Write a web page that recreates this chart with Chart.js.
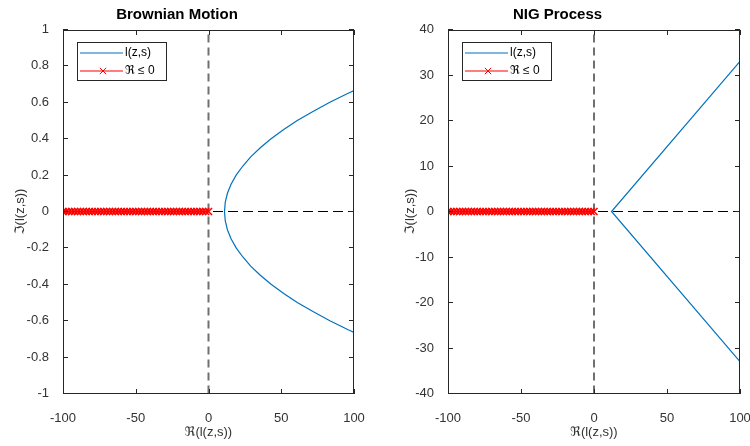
<!DOCTYPE html>
<html>
<head>
<meta charset="utf-8">
<script src="https://cdn.jsdelivr.net/npm/chart.js@4/dist/chart.umd.min.js"></script>
<style>
html, body { margin: 0; padding: 0; background: #fff; }
#wrap { width: 750px; height: 446px; display: flex; }
</style>
</head>
<body>
<div id="wrap">
    <canvas id="bm" width="375" height="446"></canvas>
    <canvas id="nig" width="375" height="446"></canvas>
</div>
<script>
// tick labels
var reTicks = [-100, -50, 0, 50, 100];
var bmImTicks = [-1, -0.8, -0.6, -0.4, -0.2, 0, 0.2, 0.4, 0.6, 0.8, 1];
var nigImTicks = [-40, -30, -20, -10, 0, 10, 20, 30, 40];

// brownian motion: l(z,s) curve (real part, imaginary part)
var bmRe = [100, 96, 83.4, 71.8, 61, 51.7, 43, 35.6, 29, 23.6, 19, 15.5, 13, 11.5, 11,
            11.5, 13, 15.5, 19, 23.6, 29, 35.6, 43, 51.7, 61, 71.8, 83.4, 96, 100];
var bmIm = [-0.665, -0.65, -0.6, -0.55, -0.5, -0.45, -0.4, -0.35, -0.3, -0.25, -0.2, -0.15, -0.1, -0.05, 0,
            0.05, 0.1, 0.15, 0.2, 0.25, 0.3, 0.35, 0.4, 0.45, 0.5, 0.55, 0.6, 0.65, 0.665];

// nig process: l(z,s) curve
var nigRe = [100, 12, 100];
var nigIm = [-33, 0, 33];

// points with real part <= 0 (on the real axis)
var negRe = [-100, -98, -96, -94, -92, -90, -88, -86, -84, -82, -80, -78, -76, -74, -72, -70, -68,
             -66, -64, -62, -60, -58, -56, -54, -52, -50, -48, -46, -44, -42, -40, -38, -36, -34,
             -32, -30, -28, -26, -24, -22, -20, -18, -16, -14, -12, -10, -8, -6, -4, -2, 0];
var negIm = [0, 0, 0, 0, 0, 0, 0, 0, 0, 0, 0, 0, 0, 0, 0, 0, 0, 0, 0, 0, 0, 0, 0, 0, 0, 0,
             0, 0, 0, 0, 0, 0, 0, 0, 0, 0, 0, 0, 0, 0, 0, 0, 0, 0, 0, 0, 0, 0, 0, 0, 0];

// dashed reference lines
var hLineRe = [-100, 100];
var vLineRe = [0, 0];

var FONT = 'Liberation Sans, Arial, DejaVu Sans, sans-serif';
var TEXT_COLOR = '#333333';
var CURVE_COLOR = '#0072BD';

var toPoints = function(xs, ys) {
    var pts = [];
    for (var i = 0; i < xs.length; i++) {
        pts.push({x: xs[i], y: ys[i]});
    }
    return pts;
};

// matlab style box, inward ticks and legend inside the plot
var matlabAxes = {
    id: 'matlabAxes',
    afterDatasetsDraw: function(chart) {
        var ctx = chart.ctx, a = chart.chartArea;
        var xs = chart.scales.x, ys = chart.scales.y;
        var left = Math.round(a.left), right = Math.round(a.right);
        var top = Math.round(a.top), bottom = Math.round(a.bottom);
        ctx.save();
        ctx.setLineDash([]);
        ctx.globalAlpha = 1;
        ctx.strokeStyle = '#262626';
        ctx.lineWidth = 1;
        ctx.strokeRect(left + 0.5, top + 0.5, right - left - 1, bottom - top - 1);
        ctx.beginPath();
        xs.ticks.forEach(function(t) {
            var px = Math.round(xs.getPixelForValue(t.value)) + 0.5;
            ctx.moveTo(px, bottom); ctx.lineTo(px, bottom - 5);
            ctx.moveTo(px, top); ctx.lineTo(px, top + 5);
        });
        ys.ticks.forEach(function(t) {
            var py = Math.floor(ys.getPixelForValue(t.value)) + 0.5;
            ctx.moveTo(left, py); ctx.lineTo(left + 5, py);
            ctx.moveTo(right, py); ctx.lineTo(right - 5, py);
        });
        ctx.stroke();

        //legend box:
        var lx = left + 14, ly = top + 12;
        ctx.fillStyle = '#fff';
        ctx.fillRect(lx, ly, 89, 38);
        ctx.strokeStyle = '#262626';
        ctx.strokeRect(lx + 0.5, ly + 0.5, 89, 38);

        //legend entries:
        ctx.lineWidth = 1.2;
        ctx.strokeStyle = CURVE_COLOR;
        ctx.beginPath();
        ctx.moveTo(lx + 3, ly + 11); ctx.lineTo(lx + 46, ly + 11);
        ctx.stroke();

        ctx.strokeStyle = '#ff0000';
        ctx.fillStyle = '#ff0000';
        ctx.beginPath();
        ctx.moveTo(lx + 3, ly + 29); ctx.lineTo(lx + 46, ly + 29);
        ctx.stroke();
        ctx.lineWidth = 1;
        Chart.helpers.drawPoint(ctx, {pointStyle: 'crossRot', radius: 4.5, borderWidth: 1}, lx + 26, ly + 29);

        ctx.fillStyle = '#000';
        ctx.font = '12px ' + FONT;
        ctx.textBaseline = 'middle';
        ctx.textAlign = 'left';
        ctx.fillText('l(z,s)', lx + 48, ly + 11);
        ctx.fillText('\u211C \u2264 0', lx + 48, ly + 29);
        ctx.restore();
    }
};

var makeChart = function(id, opts) {
    var tickFont = {family: FONT, size: 13};
    return new Chart(document.getElementById(id), {
        type: 'scatter',
        data: {
            datasets: [{
                label: '\u211C \u2264 0',
                data: toPoints(negRe, negIm),
                showLine: true,
                borderColor: '#ff0000',
                borderWidth: 1,
                pointStyle: 'crossRot',
                pointRadius: 5,
                pointBorderWidth: 1.5,
                pointBorderColor: '#ff0000',
                order: 0
            }, {
                label: 'l(z,s)',
                data: toPoints(opts.curveRe, opts.curveIm),
                showLine: true,
                borderColor: CURVE_COLOR,
                borderWidth: 1.2,
                pointRadius: 0,
                tension: 0,
                order: 1
            }, {
                label: 'zero-h',
                data: toPoints(hLineRe, [0, 0]),
                showLine: true,
                borderColor: '#000',
                borderWidth: 1,
                borderDash: [10, 5],
                pointRadius: 0,
                order: 2
            }, {
                label: 'zero-v',
                data: toPoints(vLineRe, [opts.imTicks[0], opts.imTicks[opts.imTicks.length - 1]]),
                showLine: true,
                borderColor: '#707070',
                borderWidth: 2,
                borderDash: [8, 5],
                pointRadius: 0,
                order: 3
            }]
        },
        options: {
            responsive: false,
            animation: false,
            events: [],
            layout: {
                padding: {left: 0, top: 0, bottom: 0, right: opts.padRight}
            },
            plugins: {
                legend: {display: false},
                tooltip: {enabled: false},
                title: {
                    display: true,
                    text: opts.title,
                    color: '#000',
                    font: {family: FONT, size: 15, weight: 'bold'},
                    padding: {top: 6, bottom: 5.5}
                }
            },
            scales: {
                x: {
                    type: 'linear',
                    min: -100,
                    max: 100,
                    grid: {display: false},
                    border: {display: false},
                    ticks: {
                        color: TEXT_COLOR, font: tickFont, padding: 9, maxRotation: 0,
                        callback: function(v) { return String(v); }
                    },
                    afterBuildTicks: function(axis) {
                        axis.ticks = reTicks.map(function(v) { return {value: v}; });
                    },
                    afterFit: function(axis) {
                        axis.height = 52.5;
                        axis.paddingLeft = 0;
                        axis.paddingRight = 0;
                    },
                    title: {
                        display: true,
                        text: '\u211C(l(z,s))',
                        color: TEXT_COLOR,
                        font: {family: FONT, size: 13},
                        padding: {top: 0, bottom: 6}
                    }
                },
                y: {
                    type: 'linear',
                    min: opts.imTicks[0],
                    max: opts.imTicks[opts.imTicks.length - 1],
                    grid: {display: false},
                    border: {display: false},
                    ticks: {
                        color: TEXT_COLOR, font: tickFont, padding: 6,
                        callback: function(v) { return String(v); }
                    },
                    afterBuildTicks: function(axis) {
                        axis.ticks = opts.imTicks.map(function(v) { return {value: v}; });
                    },
                    afterFit: function(axis) {
                        axis.width = opts.yWidth;
                        axis.paddingTop = 0;
                        axis.paddingBottom = 0;
                    },
                    title: {
                        display: true,
                        text: '\u2111(l(z,s))',
                        color: TEXT_COLOR,
                        font: {family: FONT, size: 13},
                        padding: {top: opts.yTitlePad, bottom: 0}
                    }
                }
            }
        },
        plugins: [matlabAxes]
    });
};

makeChart('bm', {
    title: 'Brownian Motion',
    curveRe: bmRe,
    curveIm: bmIm,
    imTicks: bmImTicks,
    yWidth: 63,
    padRight: 21,
    yTitlePad: 13
});

makeChart('nig', {
    title: 'NIG Process',
    curveRe: nigRe,
    curveIm: nigIm,
    imTicks: nigImTicks,
    yWidth: 73,
    padRight: 10,
    yTitlePad: 28
});
</script>
</body>
</html>
